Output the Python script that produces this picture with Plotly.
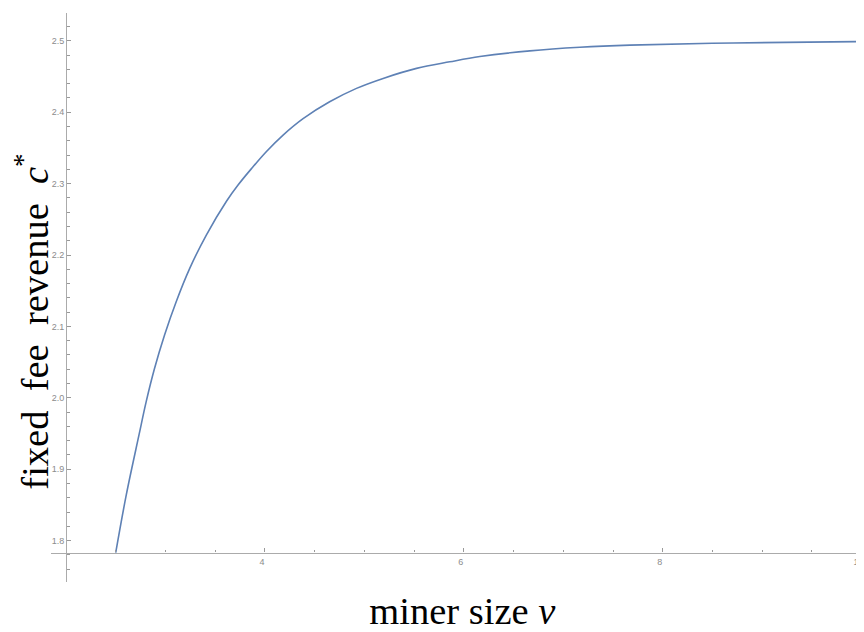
import numpy as np
import plotly.graph_objects as go

# curve values
nu = [2.499, 2.605, 2.733, 2.806, 2.889, 2.990, 3.108, 3.242, 3.410, 3.611,
      3.729, 3.864, 4.015, 4.182, 4.383, 4.650, 4.920, 5.188, 5.524, 5.859,
      6.161, 6.664, 7.167, 7.670, 8.710, 10.0]
c_star = [1.783, 1.864, 1.948, 1.995, 2.041, 2.088, 2.135, 2.181, 2.228, 2.275,
          2.298, 2.321, 2.345, 2.368, 2.391, 2.4146, 2.4334, 2.4474, 2.4614, 2.4706,
          2.478, 2.486, 2.491, 2.494, 2.497, 2.499]

x_ticks = [4, 6, 8, 10]
x_ticklabels = ["4", "6", "8", "10"]
y_ticks = [1.8, 1.9, 2.0, 2.1, 2.2, 2.3, 2.4, 2.5]
y_ticklabels = ["1.8", "1.9", "2.0", "2.1", "2.2", "2.3", "2.4", "2.5"]

x_range = [1.848, 10.024]
y_range = [1.742, 2.539]
x_origin = 2.0
y_origin = 1.7832

x_minor = [v for v in np.arange(2.5, 10.01, 0.5) if v not in x_ticks]
y_minor = [round(v, 2) for v in np.arange(1.76, 2.531, 0.02)]

fig = go.Figure(go.Scatter(
    x=nu, y=c_star, mode="lines",
    line=dict(color="#5E81B5", width=1.6, shape="spline", smoothing=1.0),
    hoverinfo="skip",
))

axis_line = "#ababab"
tick_col = "#999999"
tick_font = dict(family="Liberation Sans, Arial, sans-serif", size=9, color="#8c8c8c")
title_font = dict(family="Liberation Serif, Times New Roman, serif", size=38.5, color="black")

# the page body has an 8px margin, so the figure is 8px smaller than the window
fig.update_layout(
    width=856, height=624,
    margin=dict(l=43, r=0, t=5, b=50),
    paper_bgcolor="white", plot_bgcolor="white",
    showlegend=False,
    xaxis=dict(
        range=x_range, anchor="free",
        position=(y_origin - y_range[0]) / (y_range[1] - y_range[0]),
        showline=True, linecolor=axis_line, linewidth=1.3,
        showgrid=False, zeroline=False,
        ticks="inside", ticklen=4, tickwidth=1, tickcolor=tick_col,
        tickmode="array", tickvals=x_ticks, ticktext=x_ticklabels,
        tickfont=tick_font, ticklabeloverflow="allow", ticklabelshift=-3,
        minor=dict(tickmode="array", tickvals=x_minor, ticks="inside",
                   ticklen=2.5, tickwidth=1, tickcolor=tick_col, showgrid=False),
        title=dict(text="&nbsp;miner size <i>ν</i>", font=title_font, standoff=33),
        automargin=False,
    ),
    yaxis=dict(
        range=y_range, anchor="free",
        position=(x_origin - x_range[0]) / (x_range[1] - x_range[0]),
        showline=True, linecolor=axis_line, linewidth=1.3,
        showgrid=False, zeroline=False,
        ticks="inside", ticklen=4, tickwidth=1, tickcolor=tick_col,
        tickmode="array", tickvals=y_ticks, ticktext=y_ticklabels,
        tickfont=tick_font,
        minor=dict(tickmode="array", tickvals=y_minor, ticks="inside",
                   ticklen=2.5, tickwidth=1, tickcolor=tick_col, showgrid=False),
        title=dict(text="fixed  fee  revenue  <i>c</i><sup>*</sup>&nbsp;&nbsp;&nbsp;&nbsp;&nbsp;",
                   font=title_font, standoff=6),
        automargin=False,
    ),
)

fig.write_html("out.html")
